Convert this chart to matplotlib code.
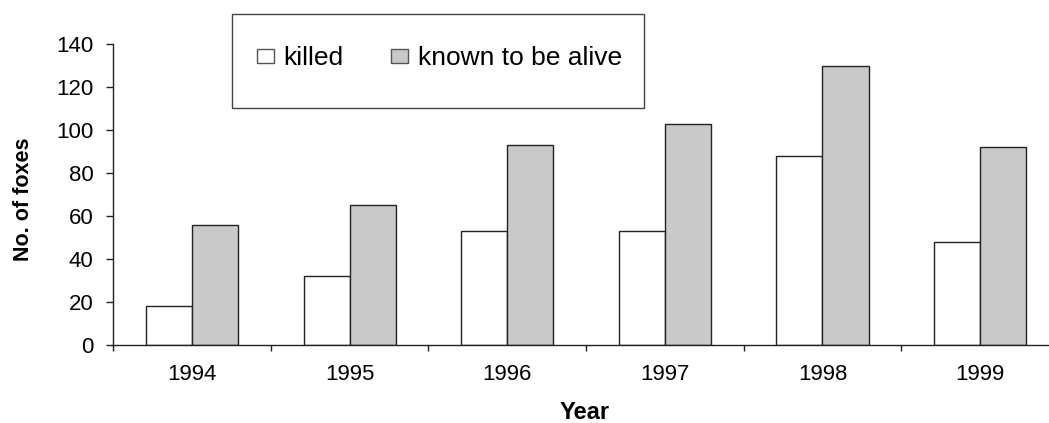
import matplotlib
matplotlib.use("Agg")
import matplotlib.pyplot as plt
from matplotlib.patches import Rectangle, Patch
import numpy as np

plt.rcParams['font.family'] = ['Liberation Sans', 'DejaVu Sans']

years = ['1994', '1995', '1996', '1997', '1998', '1999']
killed = [18, 32, 53, 53, 88, 48]
alive = [56, 65, 93, 103, 130, 92]
y_ticks = [0, 20, 40, 60, 80, 100, 120, 140]

W, H = 1049, 423
fig = plt.figure(figsize=(W / 100, H / 100), dpi=100)

# axes box in pixel terms (right end runs past the figure edge)
left_px, bottom_px, top_px, cat_px = 113.3, 345.0, 44.3, 157.6
ax = fig.add_axes([left_px / W, (H - bottom_px) / H,
                   cat_px * len(years) / W, (bottom_px - top_px) / H])

x = np.arange(len(years))
bw = 0.292
edge = '#222222'
grey = '#c9c9c9'
ax.bar(x - bw / 2, killed, bw, color='white', edgecolor=edge, linewidth=1.0)
ax.bar(x + bw / 2, alive, bw, color=grey, edgecolor=edge, linewidth=1.0)

tick_fs = 16
ax.set_xlim(-0.5, len(years) - 0.5)
ax.set_ylim(0, 140)
ax.set_yticks(y_ticks)
ax.set_yticklabels([str(v) for v in y_ticks], fontsize=tick_fs)
ax.set_xticks(x)
ax.set_xticklabels(years, fontsize=tick_fs)
ax.set_xticks(np.arange(len(years) + 1) - 0.5, minor=True)
ax.tick_params(axis='x', which='major', length=0, pad=14)
ax.tick_params(axis='x', which='minor', length=4.2, width=1, color='#222222',
               direction='out')
ax.tick_params(axis='y', length=4.8, width=1, color='#222222', pad=9.5)
for s in ('top', 'right'):
    ax.spines[s].set_visible(False)
for s in ('left', 'bottom'):
    ax.spines[s].set_color('#222222')
    ax.spines[s].set_linewidth(1.0)

fig.text(24 / W, 1 - 199 / H, 'No. of foxes', rotation=90, ha='center',
         va='center', fontsize=15.5, fontweight='bold')
fig.text(585 / W, 1 - 412 / H, 'Year', ha='center', va='center',
         fontsize=17, fontweight='bold')

# legend frame
bx0, bx1, by0, by1 = 231.7, 644.3, 14.0, 107.7
fig.patches.append(Rectangle((bx0 / W, 1 - by1 / H), (bx1 - bx0) / W,
                             (by1 - by0) / H, transform=fig.transFigure,
                             facecolor='white', edgecolor='#444444',
                             linewidth=1.0, zorder=5))
handles = [Patch(facecolor='white', edgecolor='#555555', linewidth=1.0),
           Patch(facecolor=grey, edgecolor='#555555', linewidth=1.0)]
labels = ['killed', 'known to be alive']
leg = fig.legend(handles, labels, loc='center', ncol=2, frameon=False,
                 bbox_to_anchor=(439.5 / W, 1 - 58 / H), fontsize=19,
                 handlelength=0.64, handleheight=0.45, handletextpad=0.37,
                 columnspacing=1.8, borderpad=0)
leg.set_zorder(6)

fig.savefig('out.png', dpi=100)
